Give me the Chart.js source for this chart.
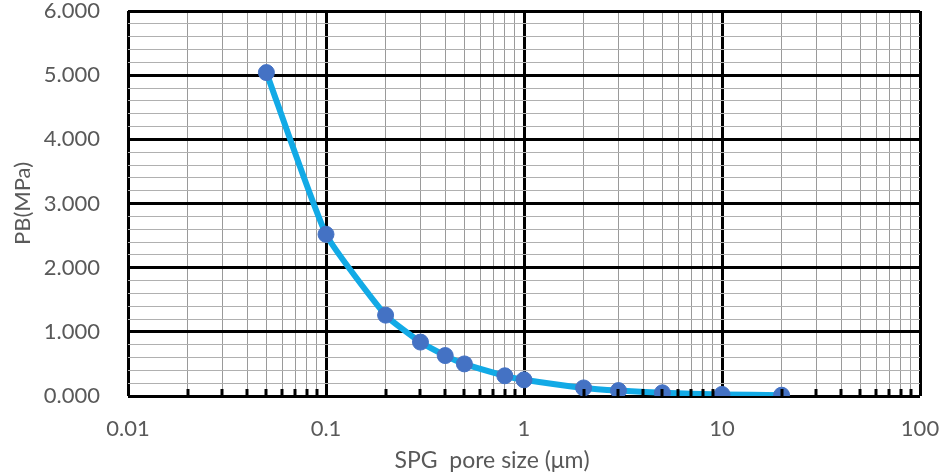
<!DOCTYPE html>
<html>
<head>
<meta charset="utf-8">
<script src="https://cdn.jsdelivr.net/npm/chart.js@4"></script>
<style>
  html, body { margin: 0; padding: 0; background: #fff; }
  #wrap { width: 946px; height: 476px; }
</style>
</head>
<body>
<div id="wrap"><canvas id="chart" width="946" height="476"></canvas></div>
<script>
// data
const poreSize = [0.05, 0.1, 0.2, 0.3, 0.4, 0.5, 0.8, 1, 2, 3, 5, 10, 20];
const pb = [5.04, 2.52, 1.26, 0.84, 0.63, 0.50, 0.315, 0.252, 0.126, 0.084, 0.050, 0.025, 0.0126];
const xDecades = [0.01, 0.1, 1, 10, 100];
const yMajor = [0, 1, 2, 3, 4, 5, 6];
const xTitle = "SPG  pore size (\u03bcm)";

const TEXT = "#595959";
const FONT = "Lato";

const isDecade = (v) => xDecades.some(d => Math.abs(v - d) / d < 1e-6);
const isYMajor = (v) => yMajor.some(m => Math.abs(v - m) < 1e-6);

function noPad(scale) {
  scale.paddingTop = 0;
  scale.paddingBottom = 0;
  scale.paddingLeft = 0;
  scale.paddingRight = 0;
}

// small inward tick marks on the bottom axis (minor positions)
const innerTicks = {
  id: "innerTicks",
  afterDatasetsDraw(chart) {
    const { ctx, scales: { x, y } } = chart;
    const bottom = y.getPixelForValue(0);
    ctx.save();
    ctx.strokeStyle = "#000";
    ctx.lineWidth = 3;
    x.ticks.forEach(t => {
      if (isDecade(t.value)) return;
      const px = Math.round(x.getPixelForValue(t.value));
      ctx.beginPath();
      ctx.moveTo(px, bottom);
      ctx.lineTo(px, bottom - 7);
      ctx.stroke();
    });
    ctx.restore();
  }
};

// x title sits a little left of the plot centre, as in the original
const xTitlePlugin = {
  id: "xTitlePlugin",
  afterDraw(chart) {
    const { ctx, chartArea } = chart;
    ctx.save();
    ctx.fillStyle = TEXT;
    ctx.font = `23px ${FONT}`;
    ctx.textAlign = "center";
    ctx.textBaseline = "middle";
    ctx.fillText(xTitle, (chartArea.left + chartArea.right) / 2 - 32, 461);
    ctx.restore();
  }
};

new Chart(document.getElementById("chart"), {
  type: "line",
  data: {
    datasets: [{
      data: poreSize.map((v, i) => ({ x: v, y: pb[i] })),
      borderColor: "#12AAE6",
      borderWidth: 6,
      tension: 0.15,
      pointRadius: 8,
      pointHoverRadius: 8,
      pointBackgroundColor: "#4472C4",
      pointBorderColor: "#4472C4",
      pointBorderWidth: 1
    }]
  },
  options: {
    responsive: false,
    animation: false,
    layout: { padding: { left: 0, right: 26, top: 11, bottom: 0 } },
    plugins: { legend: { display: false }, tooltip: { enabled: false } },
    scales: {
      x: {
        type: "logarithmic",
        min: 0.01,
        max: 100,
        afterBuildTicks(scale) {
          const ticks = [];
          xDecades.forEach((d, i) => {
            if (i === xDecades.length - 1) { ticks.push({ value: d }); return; }
            for (let k = 1; k <= 9; k++) ticks.push({ value: d * k });
          });
          scale.ticks = ticks;
        },
        afterFit(scale) { scale.height = 80; noPad(scale); },
        ticks: {
          autoSkip: false,
          maxRotation: 0,
          padding: 20,
          color: TEXT,
          font: { family: FONT, size: 22 },
          callback(v) { return isDecade(v) ? String(+v.toPrecision(2)) : ""; }
        },
        grid: {
          drawTicks: false,
          color: (c) => isDecade(c.tick.value) ? "#000" : "#9a9a9a",
          lineWidth: (c) => isDecade(c.tick.value) ? 3 : 1
        },
        border: { display: false },
        title: { display: false }
      },
      y: {
        min: 0,
        max: 6,
        afterBuildTicks(scale) {
          const ticks = [];
          for (let i = 0; i <= 30; i++) ticks.push({ value: i / 5 });
          scale.ticks = ticks;
        },
        afterFit(scale) { scale.width = 128; noPad(scale); },
        ticks: {
          autoSkip: false,
          padding: 28,
          color: TEXT,
          font: { family: FONT, size: 22 },
          callback(v) { return isYMajor(v) ? v.toFixed(3) : ""; }
        },
        grid: {
          drawTicks: false,
          color: (c) => isYMajor(c.tick.value) ? "#000" : "#b0b0b0",
          lineWidth: (c) => isYMajor(c.tick.value) ? 3 : 1
        },
        border: { display: false },
        title: {
          display: true,
          text: "PB(MPa)",
          color: TEXT,
          font: { family: FONT, size: 22 },
          padding: { top: 10, bottom: 0 }
        }
      }
    }
  },
  plugins: [innerTicks, xTitlePlugin]
});
</script>
</body>
</html>
